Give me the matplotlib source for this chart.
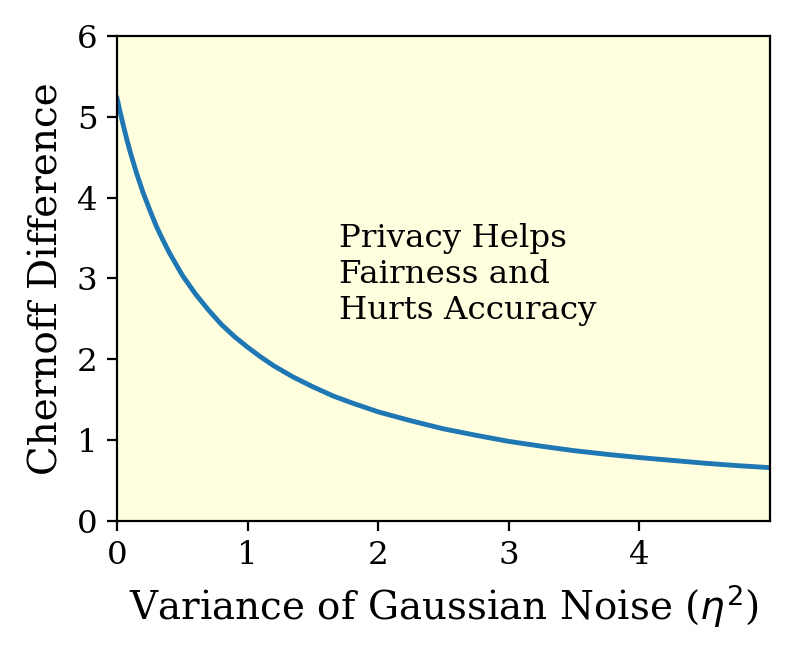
import matplotlib
matplotlib.use('Agg')
import matplotlib.pyplot as plt

# values
noise_var = [0.0, 0.025, 0.05, 0.075, 0.1, 0.15, 0.2, 0.25, 0.3, 0.35, 0.4,
             0.45, 0.5, 0.6, 0.7, 0.8, 0.9, 1.0, 1.1, 1.2, 1.35, 1.5, 1.65,
             1.8, 2.0, 2.25, 2.5, 2.75, 3.0, 3.25, 3.5, 3.75, 4.0, 4.25, 4.5,
             4.75, 5.0]
chernoff_diff = [5.23, 5.05, 4.88, 4.72, 4.57, 4.30, 4.06, 3.85, 3.65, 3.48,
                 3.32, 3.18, 3.04, 2.81, 2.61, 2.43, 2.28, 2.15, 2.03, 1.92,
                 1.78, 1.66, 1.55, 1.46, 1.35, 1.24, 1.14, 1.06, 0.985, 0.925,
                 0.87, 0.825, 0.785, 0.75, 0.715, 0.685, 0.66]

x_ticks = [0, 1, 2, 3, 4]
y_ticks = [0, 1, 2, 3, 4, 5, 6]
note = "Privacy Helps\nFairness and\nHurts Accuracy"

plt.rcParams['font.family'] = 'DejaVu Serif'

fig = plt.figure(figsize=(3.97, 3.29), dpi=200)
ax = fig.add_axes([0.1474, 0.2082, 0.8224, 0.7371])
ax.set_facecolor('lightyellow')
ax.plot(noise_var, chernoff_diff, color='tab:blue', linewidth=1.75)

ax.text(1.7, 2.5, note, fontsize=11.7)

ax.set_xlim(0, 5)
ax.set_ylim(0, 6)
ax.set_xticks(x_ticks)
ax.set_yticks(y_ticks)
ax.tick_params(labelsize=11.7)
ax.set_xlabel(r"Variance of Gaussian Noise ($\eta^2$)", fontsize=14)
ax.set_ylabel("Chernoff Difference", fontsize=14)

fig.savefig('out.png', dpi=200)
